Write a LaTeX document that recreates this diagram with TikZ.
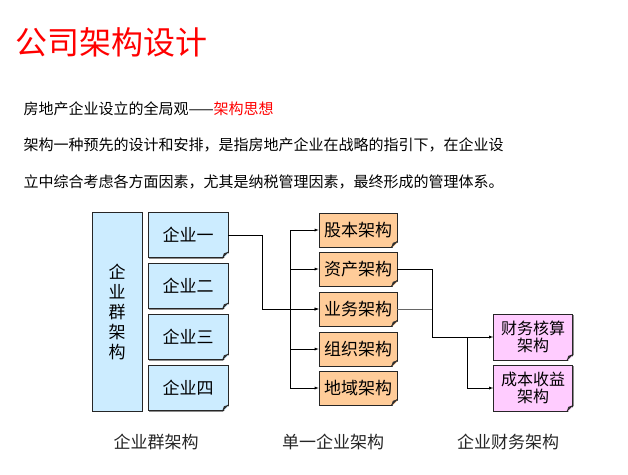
\documentclass[tikz,border=0pt]{standalone}
\usepackage{fontspec}
\setmainfont{Noto Sans CJK SC}
\usepackage{xcolor}
\usetikzlibrary{shadows}
\definecolor{grpblue}{RGB}{204,236,255}
\definecolor{partorange}{RGB}{255,204,153}
\definecolor{finpink}{RGB}{255,204,255}
\definecolor{titlered}{RGB}{255,0,0}

\newcommand{\titlefont}{\fontsize{32}{36}\selectfont}
\newcommand{\bodyfont}{\fontsize{15}{18}\selectfont}
\newcommand{\boxfont}{\fontsize{17}{20}\selectfont}

\tikzset{
  card/.style={draw=black!85, line width=0.7pt, inner sep=0pt,
    drop shadow={shadow xshift=1.2pt, shadow yshift=-1.2pt, fill=black!45, opacity=1}},
  grpcard/.style={card, fill=grpblue, minimum width=80pt, minimum height=45pt, font=\boxfont},
  partcard/.style={card, fill=partorange, minimum width=78pt, minimum height=34pt, font=\boxfont},
  fincard/.style={card, fill=finpink, minimum width=79pt, minimum height=46pt,
    font=\fontsize{16}{19}\selectfont, align=center},
  caption/.style={font=\boxfont, text=black!85}
}

\begin{document}
\begin{tikzpicture}[x=1pt,y=-1pt]

\useasboundingbox (0,0) rectangle (628,474);
\fill[white] (0,0) rectangle (628,474);

% heading and text lines
\node[anchor=west, text=titlered, font=\titlefont] (title) at (12,42) {公司架构设计};
\node[anchor=west, font=\bodyfont] (idea) at (20,109) {房地产企业设立的全局观——\textcolor{titlered}{架构思想}};
\node[anchor=west, font=\bodyfont] (lineA) at (20,145) {架构一种预先的设计和安排，是指房地产企业在战略的指引下，在企业设};
\node[anchor=west, font=\bodyfont] (lineB) at (20,182) {立中综合考虑各方面因素，尤其是纳税管理因素，最终形成的管理体系。};

% enterprise group
\node[draw=black!85, line width=0.7pt, fill=grpblue, minimum width=50pt, minimum height=199pt,
  align=center, font=\fontsize{17}{20}\selectfont] (grp) at (117,311.5) {企\\业\\群\\架\\构};
\node[grpcard] (e1) at (188,235) {企业一};
\node[grpcard] (e2) at (188,286) {企业二};
\node[grpcard] (e3) at (188,337) {企业三};
\node[grpcard] (e4) at (188,388) {企业四};

% single enterprise parts
\node[partcard] (m1) at (358,230) {股本架构};
\node[partcard] (m2) at (358,269) {资产架构};
\node[partcard] (m3) at (358,309) {业务架构};
\node[partcard] (m4) at (358,349) {组织架构};
\node[partcard] (m5) at (358,388) {地域架构};

% finance parts
\node[fincard] (f1) at (533,337) {财务核算\\[-2pt]架构};
\node[fincard] (f2) at (533,388) {成本收益\\[-2pt]架构};

% folded corners
\foreach \n in {e1,e2,e3,e4,m1,m2,m3,m4,m5,f1,f2} {
  \fill[white] ([shift={(-6,1.6)}]\n.south east) -- ([shift={(1.6,1.6)}]\n.south east) -- ([shift={(1.6,-6)}]\n.south east) -- cycle;
  \fill[black!80] ([shift={(-6,0)}]\n.south east) -- ([shift={(0,-6)}]\n.south east) -- ([shift={(-4.5,-4.5)}]\n.south east) -- cycle;
  \draw[black!85, line width=0.7pt] ([shift={(-6,0)}]\n.south east) -- ([shift={(0,-6)}]\n.south east);
}

% junction points
\coordinate (jn) at (262,0);
\coordinate (bus) at (290,0);
\coordinate (mj) at (432,0);
\coordinate (fb) at (467,0);

% connectors
\draw[-latex] (e1.east) -- (jn |- e1.east) |- (m3.west);
\draw (bus |- m1.west) -- (bus |- m5.west);
\foreach \m in {m1,m2,m3,m4,m5}
  \draw[-latex] (bus |- \m.west) -- (\m.west);
\draw[-latex] (m2.east) -- (mj |- m2.east) |- (f1.west);
\draw[black!60] (m3.east) -- (mj |- m3.east);
\draw[-latex] (fb |- f1.west) |- (f2.west);

% captions
\node[caption] (capA) at (156,442) {企业群架构};
\node[caption] (capB) at (333,442) {单一企业架构};
\node[caption] (capC) at (508,442) {企业财务架构};

\end{tikzpicture}
\end{document}
